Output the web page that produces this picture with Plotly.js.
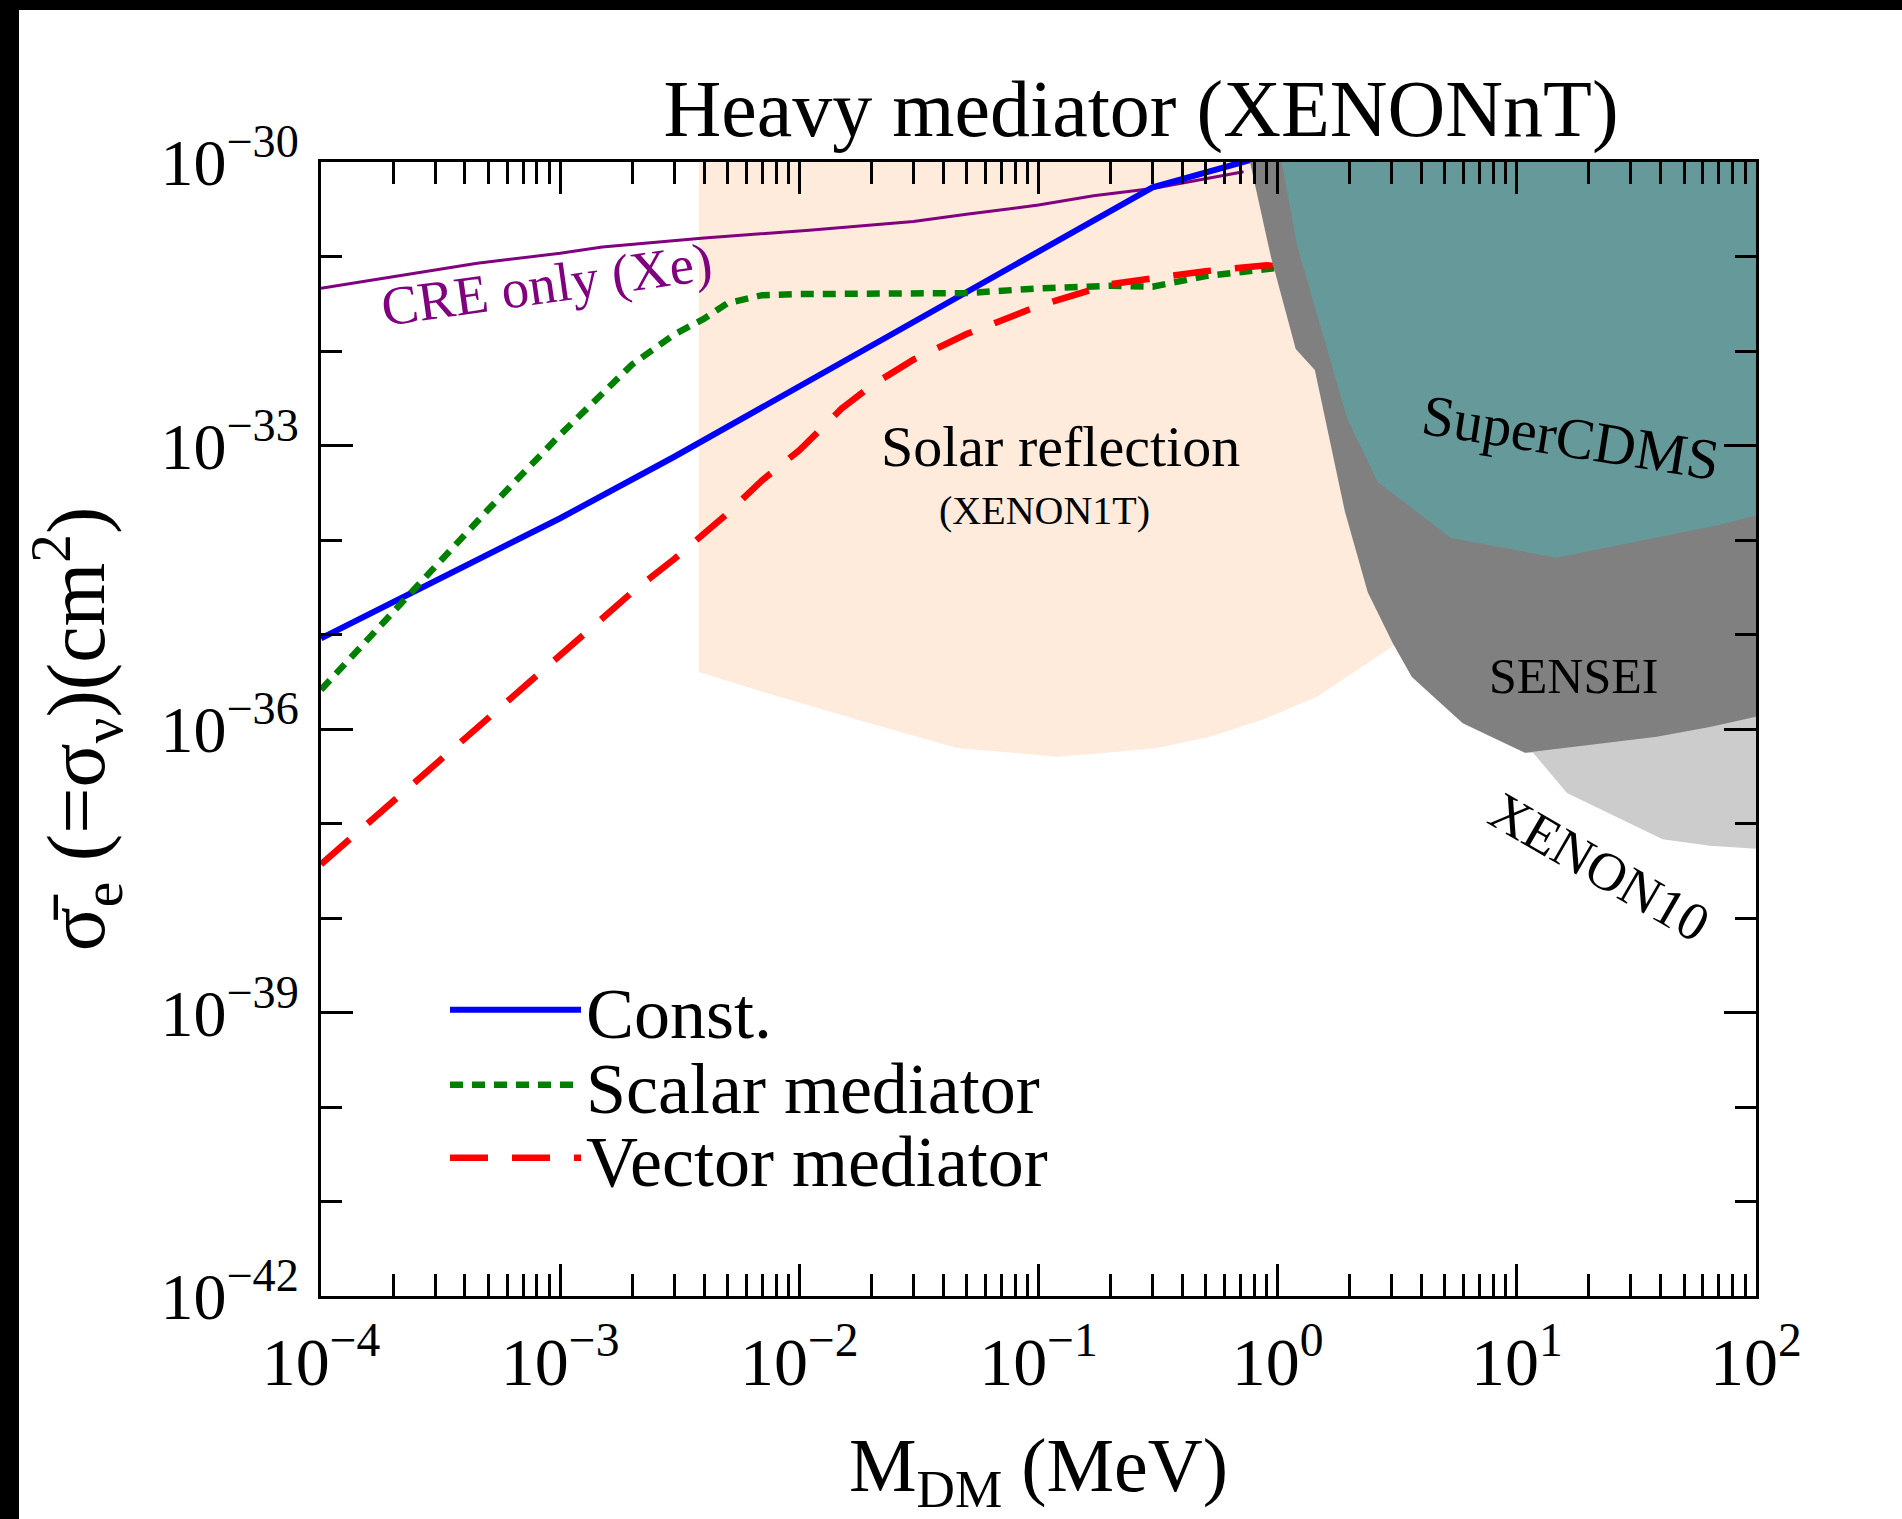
<!DOCTYPE html>
<html><head><meta charset="utf-8">
<script src="https://cdn.plot.ly/plotly-3.0.1.min.js"></script>
<style>
html,body{margin:0;padding:0;background:#000;width:1902px;height:1519px;overflow:hidden;}
#chart{position:absolute;left:19px;top:10px;width:1883px;height:1509px;background:#fff;}
</style></head><body><div id="chart"></div>
<script>
// ---- data (mass in MeV, cross section in cm^2) ----
const constMass = [1e-4, 3e-4, 1e-3, 3e-3, 1e-2, 0.1, 0.3, 0.8];
const constSigma = [9.1e-36, 3.7e-35, 1.7e-34, 7.6e-34, 4.2e-33, 1.12e-31, 5.4e-31, 1.08e-30];

const scalarMass = [1e-4, 2.5e-4, 5e-4, 1e-3, 1.5e-3, 2e-3, 3e-3, 4e-3, 5e-3, 7e-3, 1e-2, 5e-2, 0.1, 0.2, 0.3, 0.5, 1.0];
const scalarSigma = [2.6e-36, 3.2e-35, 2.1e-34, 1.3e-33, 3.6e-33, 7.2e-33, 1.5e-32, 2.2e-32, 3.2e-32, 3.9e-32, 4.0e-32, 4.1e-32, 4.6e-32, 4.9e-32, 4.8e-32, 6.2e-32, 7.6e-32];

const vectorMass = [1e-4, 1e-3, 2e-3, 3e-3, 5e-3, 7e-3, 1e-2, 1.5e-2, 2e-2, 3e-2, 5e-2, 0.1, 0.2, 0.5, 0.9, 1.0];
const vectorSigma = [3.7e-38, 6.0e-36, 2.8e-35, 6.3e-35, 1.9e-34, 4.3e-34, 8.9e-34, 2.45e-33, 4.3e-33, 8.1e-33, 1.51e-32, 3.0e-32, 5.1e-32, 7.0e-32, 8.1e-32, 7.8e-32];

const creMass = [1e-4, 2.2e-4, 4.5e-4, 1e-3, 1.5e-3, 4e-3, 1.1e-2, 3e-2, 5e-2, 0.1, 0.17, 0.3, 0.72];
const creSigma = [4.6e-32, 6.3e-32, 8.5e-32, 1.08e-31, 1.26e-31, 1.57e-31, 1.9e-31, 2.34e-31, 2.8e-31, 3.5e-31, 4.4e-31, 5.25e-31, 7.9e-31];

const solarMass = [3.8e-3, 3.8e-3, 7.3e-3, 1.74e-2, 4.56e-2, 0.119, 0.193, 0.313, 0.521, 0.867, 1.46, 2.27, 3.09, 2.5, 1.6, 1.26];
const solarSigma = [1e-30, 4.0e-36, 2.4e-36, 1.26e-36, 6.3e-37, 5.1e-37, 5.6e-37, 6.3e-37, 8.3e-37, 1.26e-36, 2.19e-36, 4.6e-36, 7.8e-36, 1e-34, 3.2e-32, 1e-30];

const senseiMass = [0.766, 0.938, 1.19, 1.43, 1.91, 2.38, 3.03, 3.64, 5.94, 10.8, 38.5, 64.1, 100, 100];
const senseiSigma = [1e-30, 9.8e-32, 1.05e-32, 6.3e-33, 2.0e-34, 2.8e-35, 8.1e-36, 3.55e-36, 1.15e-36, 5.6e-37, 8.3e-37, 1.05e-36, 1.35e-36, 1e-30];

const cdmsMass = [1.04, 1.21, 1.95, 2.62, 5.3, 14.6, 70.6, 100, 100];
const cdmsSigma = [1e-30, 1.26e-31, 1.95e-33, 4.1e-34, 1.05e-34, 6.5e-35, 1.45e-34, 1.82e-34, 1e-30];

const xenon10Mass = [10.8, 11.7, 16.2, 40.7, 64.1, 100, 100, 8];
const xenon10Sigma = [5.6e-37, 5.6e-37, 2.1e-37, 6.8e-38, 5.8e-38, 5.4e-38, 1e-33, 1e-35];

const xTickVals = [1e-4, 1e-3, 1e-2, 1e-1, 1, 10, 100];
const xTickText = ['10<sup>−4</sup>', '10<sup>−3</sup>', '10<sup>−2</sup>', '10<sup>−1</sup>', '10<sup>0</sup>', '10<sup>1</sup>', '10<sup>2</sup>'];
const yTickVals = [1e-42, 1e-39, 1e-36, 1e-33, 1e-30];
const yTickText = ['10<sup>−42</sup>', '10<sup>−39</sup>', '10<sup>−36</sup>', '10<sup>−33</sup>', '10<sup>−30</sup>'];

// ---- layout helpers (page pixel -> paper) ----
const FONT = 'Liberation Serif, Times New Roman, serif';
const PL = 321, PT = 162, PW = 1435, PH = 1134;
const px = X => (X - PL) / PW;
const py = Y => (PT + PH - Y) / PH;

const traces = [
  {x: solarMass, y: solarSigma, mode: 'lines', fill: 'toself', fillcolor: '#feebdb', line: {width: 0, color: 'rgba(0,0,0,0)'}, showlegend: false, hoverinfo: 'skip'},
  {x: creMass, y: creSigma, mode: 'lines', line: {color: '#800080', width: 3}, showlegend: false},
  {x: constMass, y: constSigma, mode: 'lines', name: 'Const.', line: {color: '#0000ff', width: 6}, legend: 'legend'},
  {x: scalarMass, y: scalarSigma, mode: 'lines', name: 'Scalar mediator', line: {color: '#008000', width: 6.5, dash: '13px,9px'}, legend: 'legend2'},
  {x: vectorMass, y: vectorSigma, mode: 'lines', name: 'Vector mediator', line: {color: '#ff0000', width: 6.5, dash: '38px,24px'}, legend: 'legend3'},
  {x: xenon10Mass, y: xenon10Sigma, mode: 'lines', fill: 'toself', fillcolor: '#cccccc', line: {width: 0, color: 'rgba(0,0,0,0)'}, showlegend: false},
  {x: senseiMass, y: senseiSigma, mode: 'lines', fill: 'toself', fillcolor: '#808080', line: {width: 0, color: 'rgba(0,0,0,0)'}, showlegend: false},
  {x: cdmsMass, y: cdmsSigma, mode: 'lines', fill: 'toself', fillcolor: '#669999', line: {width: 0, color: 'rgba(0,0,0,0)'}, showlegend: false}
];

const legendBase = {bgcolor: 'rgba(0,0,0,0)', borderwidth: 0, font: {family: FONT, size: 72, color: '#000'}, xanchor: 'left', yanchor: 'middle', itemwidth: 131, x: px(445)};

const ann = (text, X, Y, size, angle, color) => ({
  text: text, xref: 'paper', yref: 'paper', x: px(X), y: py(Y), xanchor: 'center', yanchor: 'middle',
  showarrow: false, textangle: angle || 0, font: {family: FONT, size: size, color: color || '#000'}
});

const layout = {
  width: 1883, height: 1509,
  margin: {l: PL - 19, t: PT - 10, r: 1883 - (PL - 19) - PW, b: 1509 - (PT - 10) - PH},
  paper_bgcolor: '#fff', plot_bgcolor: '#fff',
  font: {family: FONT, color: '#000'},
  title: {text: 'Heavy mediator (XENONnT)', font: {family: FONT, size: 80, color: '#000'}, xref: 'paper', x: px(1141), xanchor: 'center', yref: 'container', y: 1 - 97.5 / 1509, yanchor: 'middle'},
  xaxis: {
    type: 'log', range: [-4, 2], tickmode: 'array', tickvals: xTickVals, ticktext: xTickText,
    ticks: 'inside', ticklen: 32, tickwidth: 3, tickcolor: '#000',
    showline: true, linewidth: 3, linecolor: '#000', mirror: 'ticks',
    showgrid: false, zeroline: false,
    minor: {ticks: 'inside', ticklen: 22, tickwidth: 3, tickcolor: '#000', dtick: 'D1', showgrid: false},
    tickfont: {family: FONT, size: 68, color: '#000'}, ticklabelstandoff: 4,
    title: {text: 'M<sub>DM</sub> (MeV)', font: {family: FONT, size: 76, color: '#000'}, standoff: 44}
  },
  yaxis: {
    type: 'log', range: [-42, -30], tickmode: 'array', tickvals: yTickVals, ticktext: yTickText,
    ticks: 'inside', ticklen: 32, tickwidth: 3, tickcolor: '#000',
    showline: true, linewidth: 3, linecolor: '#000', mirror: 'ticks',
    showgrid: false, zeroline: false,
    minor: {ticks: 'inside', ticklen: 21, tickwidth: 3, tickcolor: '#000', dtick: 1, showgrid: false},
    tickfont: {family: FONT, size: 66, color: '#000'}, ticklabelstandoff: 6,
    title: {text: 'σ̄<sub>e</sub> (=σ<sub>ν</sub>)(cm<sup>2</sup>)', font: {family: FONT, size: 82, color: '#000'}, standoff: 57}
  },
  legend: Object.assign({}, legendBase, {y: py(1010)}),
  legend2: Object.assign({}, legendBase, {y: py(1085)}),
  legend3: Object.assign({}, legendBase, {y: py(1158)}),
  annotations: [
    ann('CRE only (Xe)', 546, 284, 55, -8, '#800080'),
    ann('Solar reflection', 1060, 447, 58),
    ann('(XENON1T)', 1044, 511, 40),
    ann('SuperCDMS', 1571, 437, 58, 9),
    ann('SENSEI', 1573, 676, 50),
    ann('XENON10', 1599, 867, 54, 30)
  ]
};

Plotly.newPlot('chart', traces, layout, {staticPlot: true, displayModeBar: false});
</script></body></html>
